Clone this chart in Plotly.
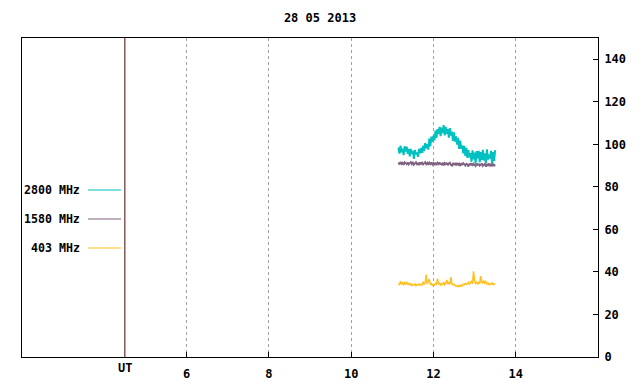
import plotly.graph_objects as go

# ---- data ----
title_text = "28 05 2013"
t_start, t_end = 11.15, 13.5

f2800 = [98.5, 95.6, 99.4, 96.3, 98.0, 94.9, 99.1, 96.6, 98.9, 95.5, 97.9,
         94.4, 97.8, 95.6, 96.9, 93.2, 97.4, 95.3, 96.2, 94.1, 97.9, 95.8, 98.3,
         96.0, 99.4, 96.8, 100.6, 98.2, 100.1, 97.5, 102.7, 99.1, 103.6, 101.2, 104.1,
         101.9, 106.4, 103.1, 107.1, 105.0, 108.2, 103.9, 107.9, 105.3, 109.0, 104.2, 108.1, 105.0, 107.2,
         103.1, 107.6, 104.2, 106.0, 101.6, 105.6, 101.3, 103.8, 99.9, 103.1,
         97.9, 101.8, 98.0, 99.5, 95.7, 99.3, 94.6, 98.4,
         93.6, 97.3, 93.9, 95.9, 91.8, 97.2, 92.9, 96.1, 90.9, 96.8,
         93.4, 96.9, 91.6, 96.3, 92.7, 97.4, 92.4, 95.7, 91.2, 97.6,
         92.8, 95.3, 93.3, 96.9, 90.8, 96.4, 92.2, 97.3]

f1580 = [91.5, 90.5, 91.7, 90.8, 91.3, 90.3, 91.6, 91.0, 90.6, 91.5,
         90.5, 91.2, 91.7, 90.7, 91.4, 90.4, 91.1, 91.6, 90.6, 91.3,
         90.2, 91.5, 90.8, 91.4, 90.5, 91.1, 91.6, 90.6, 91.3, 90.4,
         91.4, 90.7, 91.5, 90.5, 91.2, 90.2, 91.4, 90.6, 91.3, 90.3,
         91.5, 90.7, 90.4, 91.4, 90.1, 91.2, 90.6, 91.3, 90.2, 91.0,
         91.4, 90.3, 89.9, 91.2, 90.5, 91.0, 90.1, 91.3, 90.4, 90.9,
         89.8, 91.1, 90.3, 91.2, 90.5, 90.0, 91.1, 90.4, 89.6, 91.0,
         90.2, 91.1, 89.9, 90.9, 90.4, 89.8, 91.0, 90.1, 90.9, 89.9,
         90.4, 91.1, 89.8, 90.6, 90.9, 89.5, 90.8, 90.1, 91.0, 89.7,
         90.6, 90.0, 90.9, 89.8, 90.5]

f403 = [34.5, 33.9, 35.6, 34.2, 35.1, 33.8, 34.9, 34.3, 35.3, 34.0,
        34.6, 33.9, 34.4, 33.6, 34.1, 33.8, 34.3, 33.5, 34.0, 33.9,
        34.4, 33.7, 34.2, 34.0, 35.4, 34.1, 35.0, 38.8, 34.3, 35.6,
        36.6, 34.0, 34.5, 33.7, 34.2, 33.9, 34.6, 34.0, 36.8, 34.2,
        34.7, 33.8, 34.4, 34.1, 35.2, 34.0, 34.6, 36.2, 34.3, 35.0,
        34.1, 37.6, 34.4, 33.9, 34.2, 33.6, 33.2, 33.5, 33.1, 33.6,
        33.3, 33.8, 33.4, 34.2, 34.0, 34.6, 34.1, 34.5, 35.2, 34.3,
        35.0, 35.5, 34.4, 40.3, 35.8, 34.6, 35.2, 34.2, 35.0, 34.5,
        38.0, 35.3, 34.6, 36.0, 34.8, 35.4, 34.3, 34.7, 34.0, 34.5,
        34.2, 34.8, 34.1, 34.4, 34.0]

series_names = ["2800 MHz", "1580 MHz", "403 MHz"]
series_values = [f2800, f1580, f403]
series_colors = ["#00c0c0", "#806080", "#ffc020"]
series_widths = [2.0, 1.8, 1.5]

x_tickvals = [6, 8, 10, 12, 14]
x_ticktext = ["6", "8", "10", "12", "14"]
y_tickvals = [0, 20, 40, 60, 80, 100, 120, 140]
ut_x = 4.5

FONT = "DejaVu Sans Mono"


def times(vals):
    n = len(vals)
    step = (t_end - t_start) / (n - 1)
    return [t_start + step * i for i in range(n)]


fig = go.Figure()
for name, vals, col, w in zip(series_names[::-1], series_values[::-1],
                              series_colors[::-1], series_widths[::-1]):
    fig.add_trace(go.Scatter(x=times(vals), y=vals, mode="lines", name=name,
                             line=dict(color=col, width=w), showlegend=False))

# UT marker line
fig.add_shape(type="line", xref="x", yref="paper", x0=ut_x, x1=ut_x, y0=0, y1=1,
              line=dict(color="#500000", width=1))
fig.add_annotation(x=ut_x, xref="x", y=-0.034, yref="paper", text="UT", showarrow=False,
                   font=dict(family=FONT, size=12, color="black", weight="bold"),
                   xanchor="center", yanchor="middle")

# legend (gnuplot style: text then line sample)
leg_y = [0.5235, 0.4326, 0.3417]
for name, col, yy in zip(series_names, series_colors, leg_y):
    fig.add_annotation(x=0.1042, xref="paper", y=yy, yref="paper", text=name,
                       showarrow=False, xanchor="right", yanchor="middle",
                       font=dict(family=FONT, size=11.6, color="black", weight="bold"))
    fig.add_shape(type="line", xref="paper", yref="paper", x0=0.1146, x1=0.1719,
                  y0=yy, y1=yy, line=dict(color=col, width=1))

fig.update_layout(
    width=640, height=384,
    margin=dict(l=22, r=42, t=38, b=27),
    paper_bgcolor="white", plot_bgcolor="white",
    title=dict(text=title_text, x=0.5, xanchor="center", y=1 - 18 / 384, yanchor="middle",
               font=dict(family=FONT, size=12, color="black", weight="bold")),
    showlegend=False,
)
fig.update_xaxes(range=[2, 16], tickvals=x_tickvals, ticktext=x_ticktext,
                 showgrid=True, gridcolor="#a0a0a0", griddash="3px,3px", gridwidth=1,
                 showline=True, linecolor="black", linewidth=1, mirror=True,
                 ticks="inside", ticklen=5, tickcolor="black", zeroline=False,
                 ticklabelstandoff=6, automargin=False,
                 tickfont=dict(family=FONT, size=12, color="black", weight="bold"))
fig.update_yaxes(range=[0, 150], tickvals=y_tickvals, side="right",
                 showgrid=False, showline=True, linecolor="black", linewidth=1, mirror=True,
                 ticks="inside", ticklen=5, tickcolor="black", zeroline=False,
                 ticklabelstandoff=3, automargin=False,
                 tickfont=dict(family=FONT, size=12, color="black", weight="bold"))

fig.write_html("out.html", config={"displayModeBar": False},
               post_script="document.body.style.margin='0';")
